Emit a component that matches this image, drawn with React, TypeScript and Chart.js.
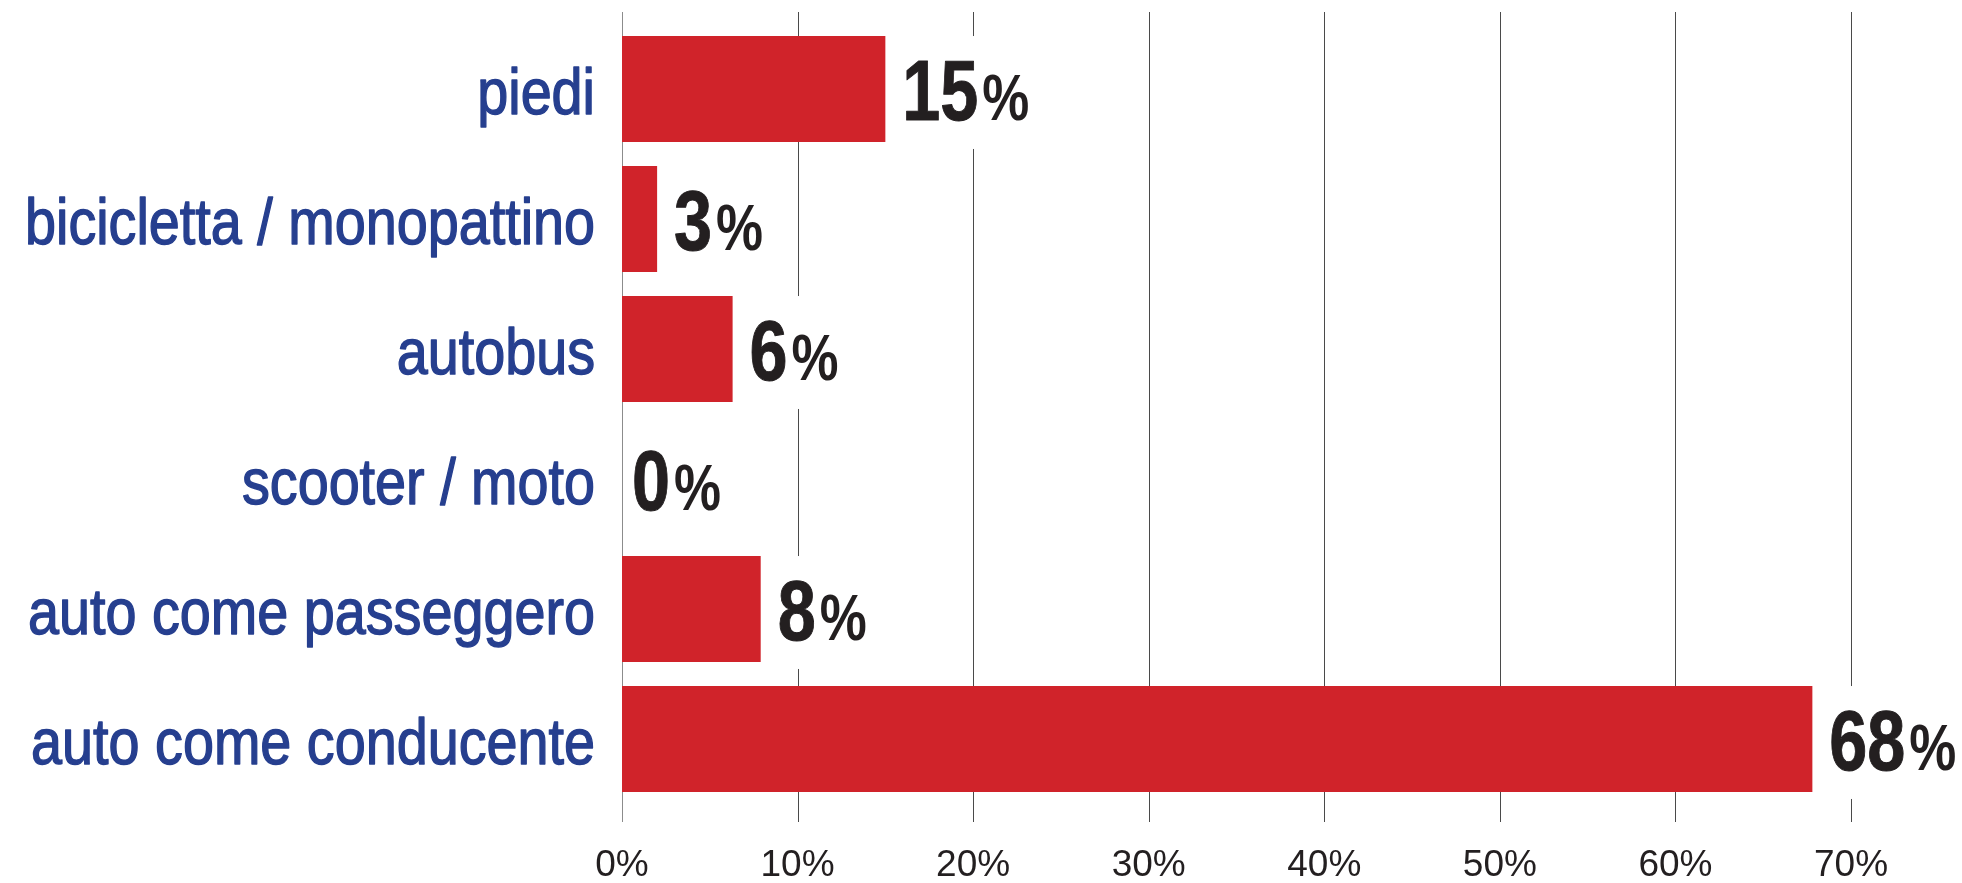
import React, { useEffect, useRef } from "react";
import { Chart, registerables } from "chart.js";

Chart.register(...registerables);

const categories = [
  "piedi",
  "bicicletta / monopattino",
  "autobus",
  "scooter / moto",
  "auto come passeggero",
  "auto come conducente",
];
const values = [15, 2, 6.3, 0, 7.9, 67.8];
const valueLabels = ["15", "3", "6", "0", "8", "68"];
const xTicks = [0, 10, 20, 30, 40, 50, 60, 70];

const FONT = '"Liberation Sans", Arial, sans-serif';
const BLUE = "#263f8f";
const RED = "#d0232a";
const DARK = "#231f20";

function drawCondensed(
  ctx: CanvasRenderingContext2D,
  text: string,
  x: number,
  y: number,
  sx: number,
  strokeW = 0
) {
  ctx.save();
  ctx.translate(x, y);
  ctx.scale(sx, 1);
  ctx.fillText(text, 0, 0);
  if (strokeW > 0) {
    ctx.lineWidth = strokeW;
    ctx.lineJoin = "round";
    ctx.strokeText(text, 0, 0);
  }
  ctx.restore();
}

const gridPlugin = {
  id: "customGrid",
  beforeDatasetsDraw(chart: any) {
    const { ctx, chartArea, scales } = chart;
    const xs = scales.x;
    ctx.save();
    ctx.lineWidth = 1;
    xTicks.forEach((t) => {
      const x = Math.round(xs.getPixelForValue(t)) + 0.5;
      ctx.strokeStyle = t === 0 ? "#8c8c8c" : "#4a4a4a";
      ctx.beginPath();
      ctx.moveTo(x, chartArea.top - 12);
      ctx.lineTo(x, chartArea.bottom + 18);
      ctx.stroke();
    });
    ctx.restore();
  },
};

const categoryPlugin = {
  id: "categoryLabels",
  afterDraw(chart: any) {
    const { ctx, scales, chartArea } = chart;
    const ys = scales.y;
    ctx.save();
    ctx.font = `64px ${FONT}`;
    const sx = 570 / ctx.measureText(categories[1]).width;
    ctx.fillStyle = BLUE;
    ctx.strokeStyle = BLUE;
    ctx.textAlign = "right";
    ctx.textBaseline = "alphabetic";
    categories.forEach((c, i) => {
      const y = ys.getPixelForValue(i);
      drawCondensed(ctx, c, chartArea.left - 27, y + 25, sx, 1.4);
    });
    ctx.restore();
  },
};

const labelPlugin = {
  id: "valueLabels",
  afterDatasetsDraw(chart: any) {
    const { ctx } = chart;
    const meta = chart.getDatasetMeta(0);
    ctx.save();
    ctx.font = `bold 86px ${FONT}`;
    const sxNum = 76 / ctx.measureText("15").width;
    ctx.font = `bold 64px ${FONT}`;
    const sxPct = 47 / ctx.measureText("%").width;
    meta.data.forEach((bar: any, i: number) => {
      const props = bar.getProps(["x", "y", "base", "height"], true);
      const end = props.x;
      const top = props.y - props.height / 2;
      const bottom = props.y + props.height / 2;
      const startX = end + (values[i] === 0 ? 10 : 17);
      ctx.font = `bold 86px ${FONT}`;
      const numW = ctx.measureText(valueLabels[i]).width * sxNum;
      const pctW = 47;
      ctx.fillStyle = "#ffffff";
      ctx.fillRect(end + 3, top, startX - end - 3 + numW + 4 + pctW + 6, bottom - top + 7);
      const baseline = props.y + 31;
      ctx.fillStyle = DARK;
      ctx.strokeStyle = DARK;
      ctx.textAlign = "left";
      ctx.textBaseline = "alphabetic";
      ctx.font = `bold 86px ${FONT}`;
      drawCondensed(ctx, valueLabels[i], startX, baseline, sxNum, 1);
      ctx.font = `bold 64px ${FONT}`;
      drawCondensed(ctx, "%", startX + numW + 4, baseline, sxPct);
    });
    ctx.restore();
  },
};

export default function App() {
  const ref = useRef<HTMLCanvasElement | null>(null);
  useEffect(() => {
    document.body.style.margin = "0";
    const canvas = ref.current;
    if (!canvas) return;
    const chart = new Chart(canvas, {
      type: "bar",
      data: {
        labels: categories,
        datasets: [
          {
            data: values,
            backgroundColor: RED,
            borderWidth: 0,
            barPercentage: 0.815,
            categoryPercentage: 1,
          },
        ],
      },
      options: {
        indexAxis: "y",
        animation: false,
        responsive: false,
        maintainAspectRatio: false,
        events: [],
        layout: { padding: { top: 24, right: 111, left: 0, bottom: 0 } },
        plugins: { legend: { display: false }, tooltip: { enabled: false } },
        scales: {
          x: {
            min: 0,
            max: 70,
            grid: { display: false, drawTicks: false },
            border: { display: false },
            ticks: {
              stepSize: 10,
              color: DARK,
              font: { family: FONT, size: 37 },
              padding: 40,
              callback: (v: any) => `${v}%`,
            },
            afterFit: (s: any) => {
              s.height = 79;
              s.paddingLeft = 0;
              s.paddingRight = 0;
            },
          },
          y: {
            grid: { display: false, drawTicks: false },
            border: { display: false },
            ticks: { display: false },
            afterFit: (s: any) => {
              s.width = 622;
              s.paddingTop = 0;
              s.paddingBottom = 0;
            },
          },
        },
      },
      plugins: [gridPlugin, labelPlugin, categoryPlugin],
    });
    return () => chart.destroy();
  }, []);
  return (
    <div style={{ width: 1962, height: 883, position: "relative", background: "#fff" }}>
      <canvas ref={ref} width={1962} height={883} style={{ display: "block" }} />
    </div>
  );
}
